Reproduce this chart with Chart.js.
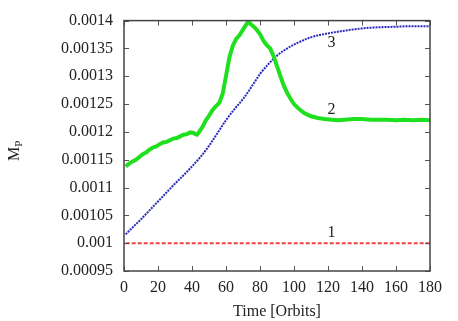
<!DOCTYPE html>
<html>
<head>
<meta charset="utf-8">
<script src="https://cdn.jsdelivr.net/npm/chart.js@4"></script>
<style>
html,body{margin:0;padding:0;background:#fff;}
#c{display:block;}
</style>
</head>
<body>
<canvas id="c" width="458" height="321"></canvas>
<script>
// ---- data ----
const xTicks = [0, 20, 40, 60, 80, 100, 120, 140, 160, 180];
const yTicks = [0.00095, 0.001, 0.00105, 0.0011, 0.00115, 0.0012, 0.00125, 0.0013, 0.00135, 0.0014];
const yTickLabels = ["0.00095", "0.001", "0.00105", "0.0011", "0.00115", "0.0012", "0.00125", "0.0013", "0.00135", "0.0014"];

const series1T = [1, 180];
const series1V = [0.001, 0.001];

const series2T = [1, 3, 5, 7, 9, 11, 13, 15, 17, 19, 21, 23, 25, 27, 29, 31, 33, 35, 37, 39, 41, 42, 43, 44, 46, 48, 50, 52, 54, 56, 58, 60, 62, 64, 66, 68, 70, 72, 73, 74, 76, 78, 80, 82, 84, 86, 88, 90, 92, 94, 96, 98, 100, 103, 106, 110, 114, 118, 122, 126, 130, 135, 140, 145, 150, 155, 160, 165, 170, 175, 180];
const series2V = [0.001138, 0.001143, 0.001147, 0.001150, 0.001155, 0.001160, 0.001163, 0.001168, 0.001172, 0.001174, 0.001178, 0.001181, 0.001182, 0.001185, 0.001188, 0.001189, 0.001192, 0.001195, 0.001196, 0.001199, 0.001198, 0.001196, 0.001195, 0.001199, 0.001208, 0.001220, 0.001229, 0.001239, 0.001246, 0.001252, 0.001268, 0.001300, 0.001334, 0.001355, 0.001367, 0.001374, 0.001384, 0.001393, 0.001398, 0.001395, 0.001390, 0.001384, 0.001376, 0.001364, 0.001356, 0.001350, 0.001336, 0.001318, 0.001300, 0.001283, 0.001270, 0.001259, 0.001250, 0.001241, 0.001234, 0.001228, 0.001225, 0.001223, 0.001222, 0.001221, 0.001222, 0.001223, 0.001223, 0.001222, 0.001222, 0.001222, 0.001221, 0.001222, 0.001221, 0.001222, 0.001221];

const series3T = [1, 5, 10, 15, 20, 25, 30, 35, 40, 45, 50, 55, 60, 65, 70, 75, 80, 85, 90, 95, 100, 105, 110, 115, 120, 130, 140, 150, 160, 170, 180];
const series3V = [0.001016, 0.001028, 0.001043, 0.001059, 0.001075, 0.001091, 0.001107, 0.001122, 0.001138, 0.001155, 0.001175, 0.001198, 0.001221, 0.001241, 0.001259, 0.001281, 0.001304, 0.001322, 0.001337, 0.001348, 0.001357, 0.001364, 0.001370, 0.001374, 0.001377, 0.001382, 0.001386, 0.001388, 0.001389, 0.001390, 0.001390];

const curveLabels = [
  {text: "1", x: 122, y: 0.001018},
  {text: "2", x: 122, y: 0.001239},
  {text: "3", x: 122, y: 0.00136}
];

const FONT = "'Liberation Serif', 'Times New Roman', serif";
const TXT = "#222";
const FS = 16;

function pts(t, v) { return t.map((x, i) => ({x: x, y: v[i]})); }

const framePlugin = {
  id: 'frame',
  afterDatasetsDraw(chart) {
    const ctx = chart.ctx;
    const a = chart.chartArea;
    const xs = chart.scales.x, ys = chart.scales.y;
    ctx.save();
    // curve labels
    ctx.fillStyle = TXT;
    ctx.font = FS + "px " + FONT;
    ctx.textAlign = "center";
    ctx.textBaseline = "middle";
    curveLabels.forEach(l => {
      ctx.fillText(l.text, xs.getPixelForValue(l.x), ys.getPixelForValue(l.y));
    });
    // ticks
    ctx.strokeStyle = "#555";
    ctx.lineWidth = 1;
    const tl = 5;
    ctx.beginPath();
    xTicks.forEach(v => {
      const px = Math.round(xs.getPixelForValue(v)) + 0.5;
      ctx.moveTo(px, a.bottom); ctx.lineTo(px, a.bottom - tl);
      ctx.moveTo(px, a.top); ctx.lineTo(px, a.top + tl);
    });
    yTicks.forEach(v => {
      const py = Math.round(ys.getPixelForValue(v)) + 0.5;
      ctx.moveTo(a.left, py); ctx.lineTo(a.left + tl, py);
      ctx.moveTo(a.right, py); ctx.lineTo(a.right - tl, py);
    });
    ctx.stroke();
    // border
    ctx.lineWidth = 1.5;
    ctx.strokeStyle = "#444";
    ctx.strokeRect(a.left, a.top, a.right - a.left, a.bottom - a.top);
    // y title M_P
    ctx.fillStyle = TXT;
    ctx.translate(19, 152);
    ctx.rotate(-Math.PI / 2);
    ctx.textAlign = "left";
    ctx.textBaseline = "alphabetic";
    ctx.font = "16px " + FONT;
    ctx.fillText("M", -9, 0);
    const w = ctx.measureText("M").width;
    ctx.font = "11px " + FONT;
    ctx.fillText("P", -9 + w, 3);
    ctx.restore();
  }
};

new Chart(document.getElementById('c'), {
  type: 'line',
  data: {
    datasets: [
      {
        label: '1', data: pts(series1T, series1V),
        borderColor: '#ee4444', borderWidth: 2, borderDash: [4, 2],
        pointRadius: 0, fill: false
      },
      {
        label: '2', data: pts(series2T, series2V),
        borderColor: '#1fe01f', borderWidth: 4,
        pointRadius: 0, fill: false, tension: 0
      },
      {
        label: '3', data: pts(series3T, series3V),
        borderColor: '#2a2ab8', borderWidth: 2, borderDash: [2, 1],
        pointRadius: 0, fill: false, cubicInterpolationMode: 'monotone'
      }
    ]
  },
  options: {
    responsive: false,
    animation: false,
    events: [],
    layout: {padding: {top: 20, right: 28, left: 0, bottom: 0}},
    plugins: {legend: {display: false}, tooltip: {enabled: false}},
    scales: {
      x: {
        type: 'linear', min: 0, max: 180,
        afterBuildTicks: s => { s.ticks = xTicks.map(v => ({value: v})); },
        afterFit: s => { s.height = 50; },
        grid: {display: false, drawTicks: false},
        border: {display: false},
        ticks: {color: TXT, font: {family: FONT, size: FS}, padding: 7, maxRotation: 0, autoSkip: false},
        title: {display: true, text: 'Time [Orbits]', color: TXT, font: {family: FONT, size: FS}, padding: {top: 0, bottom: 0}}
      },
      y: {
        type: 'linear', min: 0.00095, max: 0.0014,
        afterBuildTicks: s => { s.ticks = yTicks.map(v => ({value: v})); },
        afterFit: s => { s.width = 124; },
        grid: {display: false, drawTicks: false},
        border: {display: false},
        ticks: {
          color: TXT, font: {family: FONT, size: FS}, padding: 11, autoSkip: false,
          callback: (v, i) => yTickLabels[i]
        }
      }
    }
  },
  plugins: [framePlugin]
});
</script>
</body>
</html>
